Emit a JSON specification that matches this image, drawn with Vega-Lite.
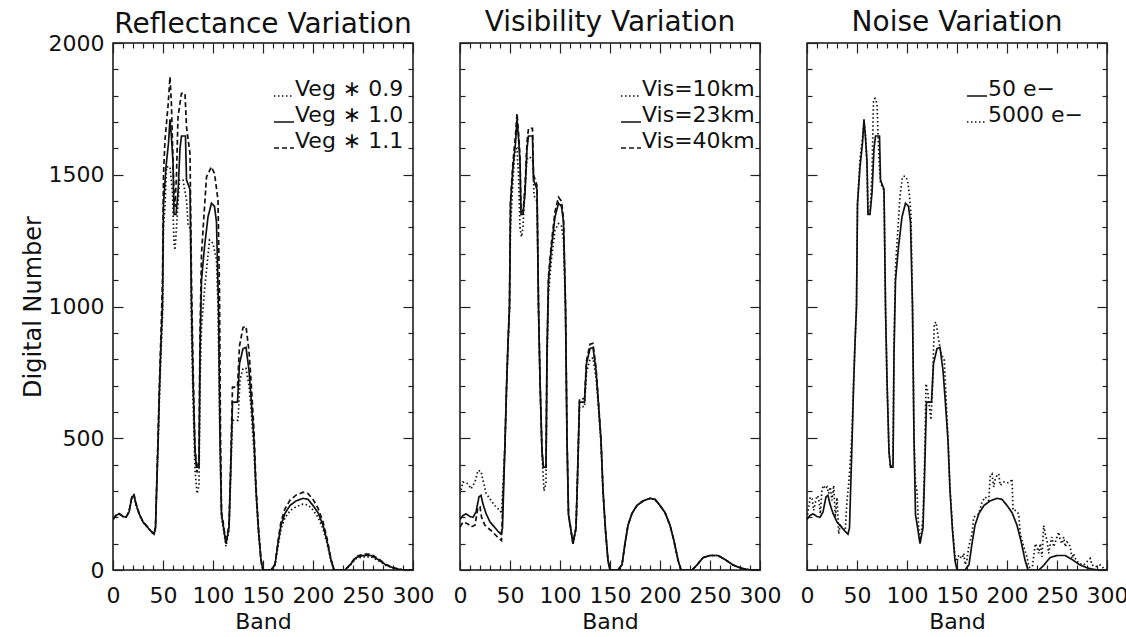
{
  "$schema": "https://vega.github.io/schema/vega-lite/v6.json",
  "background": "white",
  "padding": {"left": 20, "top": 8, "right": 5, "bottom": 0},
  "config": {
    "view": {"stroke": "#111", "strokeWidth": 1.5},
    "font": "DejaVu Sans",
    "axis": {"grid": false, "domain": false, "labelFont": "DejaVu Sans", "labelFontSize": 22, "labelColor": "#111", "titleFont": "DejaVu Sans", "titleFontSize": 22, "titleFontWeight": "normal", "titleColor": "#111", "tickColor": "#222", "tickWidth": 1.2, "labelFlush": false, "labelOverlap": false},
    "title": {"font": "DejaVu Sans", "fontSize": 28, "fontWeight": "normal", "color": "#111", "anchor": "middle", "frame": "group", "baseline": "bottom", "offset": 5},
    "legend": {"title": null, "symbolType": "stroke", "symbolSize": 400, "symbolStrokeColor": "#111", "symbolStrokeWidth": 1.7, "labelFont": "DejaVu Sans", "labelFontSize": 22, "labelColor": "#111", "labelOffset": 0, "labelBaseline": "alphabetic", "padding": 0, "rowPadding": 4, "labelLimit": 300}
  },
  "datasets": {
    "curves": [
      {"s":"base","b":0,"v":192},{"s":"base","b":3,"v":207},{"s":"base","b":6,"v":213},{"s":"base","b":10,"v":203},{"s":"base","b":13,"v":200},{"s":"base","b":16,"v":220},{"s":"base","b":19,"v":278},{"s":"base","b":21,"v":283},{"s":"base","b":23,"v":250},{"s":"base","b":26,"v":215},{"s":"base","b":30,"v":182},{"s":"base","b":34,"v":165},{"s":"base","b":38,"v":147},{"s":"base","b":41,"v":136},{"s":"base","b":42.5,"v":160},{"s":"base","b":43.5,"v":290},{"s":"base","b":45,"v":480},{"s":"base","b":46.5,"v":690},{"s":"base","b":48,"v":860},{"s":"base","b":49.5,"v":1000},{"s":"base","b":50.5,"v":1390},{"s":"base","b":53,"v":1530},{"s":"base","b":55.5,"v":1620},{"s":"base","b":57,"v":1710},{"s":"base","b":58.5,"v":1640},{"s":"base","b":60,"v":1550},{"s":"base","b":61,"v":1350},{"s":"base","b":63,"v":1350},{"s":"base","b":65,"v":1430},{"s":"base","b":67,"v":1600},{"s":"base","b":68.5,"v":1647},{"s":"base","b":72.5,"v":1647},{"s":"base","b":73.5,"v":1480},{"s":"base","b":77,"v":1445},{"s":"base","b":78.5,"v":1000},{"s":"base","b":80,"v":720},{"s":"base","b":82,"v":450},{"s":"base","b":83.5,"v":390},{"s":"base","b":86,"v":390},{"s":"base","b":87,"v":820},{"s":"base","b":88.5,"v":1100},{"s":"base","b":91.5,"v":1226},{"s":"base","b":95,"v":1340},{"s":"base","b":98.5,"v":1392},{"s":"base","b":101.5,"v":1380},{"s":"base","b":103.5,"v":1320},{"s":"base","b":105.5,"v":1000},{"s":"base","b":107,"v":500},{"s":"base","b":108.5,"v":210},{"s":"base","b":110,"v":175},{"s":"base","b":113,"v":100},{"s":"base","b":116,"v":160},{"s":"base","b":117.5,"v":350},{"s":"base","b":119.5,"v":637},{"s":"base","b":124.5,"v":637},{"s":"base","b":126.5,"v":783},{"s":"base","b":130,"v":840},{"s":"base","b":133,"v":845},{"s":"base","b":136,"v":758},{"s":"base","b":138,"v":656},{"s":"base","b":141,"v":492},{"s":"base","b":143,"v":302},{"s":"base","b":145.5,"v":150},{"s":"base","b":148,"v":36},{"s":"base","b":150,"v":0},{"s":"base","b":158,"v":0},{"s":"base","b":162,"v":20},{"s":"base","b":165,"v":100},{"s":"base","b":168,"v":170},{"s":"base","b":172,"v":215},{"s":"base","b":177,"v":245},{"s":"base","b":183,"v":262},{"s":"base","b":190,"v":272},{"s":"base","b":195,"v":268},{"s":"base","b":200,"v":245},{"s":"base","b":205,"v":218},{"s":"base","b":210,"v":170},{"s":"base","b":214,"v":110},{"s":"base","b":218,"v":38},{"s":"base","b":221,"v":0},{"s":"base","b":232,"v":0},{"s":"base","b":237,"v":19},{"s":"base","b":243,"v":47},{"s":"base","b":250,"v":55},{"s":"base","b":258,"v":55},{"s":"base","b":265,"v":40},{"s":"base","b":273,"v":19},{"s":"base","b":282,"v":6},{"s":"base","b":290,"v":0},{"s":"base","b":300,"v":0},

      {"s":"r09","b":0,"v":192},{"s":"r09","b":3,"v":207},{"s":"r09","b":6,"v":213},{"s":"r09","b":10,"v":203},{"s":"r09","b":13,"v":200},{"s":"r09","b":16,"v":220},{"s":"r09","b":19,"v":276},{"s":"r09","b":21,"v":280},{"s":"r09","b":23,"v":248},{"s":"r09","b":26,"v":214},{"s":"r09","b":30,"v":181},{"s":"r09","b":34,"v":164},{"s":"r09","b":38,"v":146},{"s":"r09","b":41,"v":135},{"s":"r09","b":42.5,"v":158},{"s":"r09","b":43.5,"v":280},{"s":"r09","b":45,"v":460},{"s":"r09","b":46.5,"v":660},{"s":"r09","b":48,"v":820},{"s":"r09","b":49.5,"v":960},{"s":"r09","b":50.5,"v":1300},{"s":"r09","b":52,"v":1380},{"s":"r09","b":53.5,"v":1530},{"s":"r09","b":57,"v":1530},{"s":"r09","b":59.5,"v":1430},{"s":"r09","b":61,"v":1240},{"s":"r09","b":62,"v":1214},{"s":"r09","b":63.5,"v":1300},{"s":"r09","b":66.5,"v":1480},{"s":"r09","b":70,"v":1480},{"s":"r09","b":73.5,"v":1404},{"s":"r09","b":75,"v":1315},{"s":"r09","b":77.5,"v":1290},{"s":"r09","b":78.5,"v":900},{"s":"r09","b":80,"v":650},{"s":"r09","b":82,"v":380},{"s":"r09","b":84,"v":290},{"s":"r09","b":86,"v":320},{"s":"r09","b":87,"v":700},{"s":"r09","b":88.5,"v":922},{"s":"r09","b":91.5,"v":1062},{"s":"r09","b":96.5,"v":1252},{"s":"r09","b":100,"v":1240},{"s":"r09","b":103.5,"v":1176},{"s":"r09","b":105,"v":1000},{"s":"r09","b":107,"v":480},{"s":"r09","b":108.5,"v":200},{"s":"r09","b":110,"v":165},{"s":"r09","b":113,"v":90},{"s":"r09","b":116,"v":150},{"s":"r09","b":117.5,"v":330},{"s":"r09","b":119.5,"v":568},{"s":"r09","b":125,"v":568},{"s":"r09","b":127,"v":720},{"s":"r09","b":130,"v":765},{"s":"r09","b":133,"v":765},{"s":"r09","b":136,"v":700},{"s":"r09","b":138,"v":615},{"s":"r09","b":141,"v":450},{"s":"r09","b":143,"v":290},{"s":"r09","b":145.5,"v":140},{"s":"r09","b":148,"v":32},{"s":"r09","b":150,"v":0},{"s":"r09","b":158,"v":0},{"s":"r09","b":162,"v":18},{"s":"r09","b":165,"v":90},{"s":"r09","b":168,"v":156},{"s":"r09","b":172,"v":198},{"s":"r09","b":177,"v":225},{"s":"r09","b":183,"v":240},{"s":"r09","b":190,"v":250},{"s":"r09","b":195,"v":247},{"s":"r09","b":200,"v":228},{"s":"r09","b":205,"v":200},{"s":"r09","b":210,"v":157},{"s":"r09","b":214,"v":100},{"s":"r09","b":218,"v":34},{"s":"r09","b":221,"v":0},{"s":"r09","b":232,"v":0},{"s":"r09","b":237,"v":17},{"s":"r09","b":243,"v":43},{"s":"r09","b":250,"v":50},{"s":"r09","b":258,"v":50},{"s":"r09","b":265,"v":36},{"s":"r09","b":273,"v":17},{"s":"r09","b":282,"v":5},{"s":"r09","b":290,"v":0},{"s":"r09","b":300,"v":0},

      {"s":"r11","b":0,"v":193},{"s":"r11","b":3,"v":208},{"s":"r11","b":6,"v":214},{"s":"r11","b":10,"v":204},{"s":"r11","b":13,"v":201},{"s":"r11","b":16,"v":222},{"s":"r11","b":19,"v":281},{"s":"r11","b":21,"v":286},{"s":"r11","b":23,"v":252},{"s":"r11","b":26,"v":216},{"s":"r11","b":30,"v":183},{"s":"r11","b":34,"v":166},{"s":"r11","b":38,"v":148},{"s":"r11","b":41,"v":137},{"s":"r11","b":42.5,"v":162},{"s":"r11","b":43.5,"v":300},{"s":"r11","b":45,"v":500},{"s":"r11","b":46.5,"v":720},{"s":"r11","b":48,"v":900},{"s":"r11","b":49.5,"v":1100},{"s":"r11","b":50.5,"v":1500},{"s":"r11","b":52,"v":1632},{"s":"r11","b":55,"v":1760},{"s":"r11","b":57,"v":1872},{"s":"r11","b":58.5,"v":1760},{"s":"r11","b":59.5,"v":1620},{"s":"r11","b":61,"v":1420},{"s":"r11","b":62,"v":1378},{"s":"r11","b":63.5,"v":1500},{"s":"r11","b":65,"v":1720},{"s":"r11","b":68.5,"v":1809},{"s":"r11","b":72,"v":1809},{"s":"r11","b":73.5,"v":1682},{"s":"r11","b":77,"v":1581},{"s":"r11","b":78.5,"v":1100},{"s":"r11","b":80,"v":780},{"s":"r11","b":82,"v":470},{"s":"r11","b":84,"v":370},{"s":"r11","b":86,"v":420},{"s":"r11","b":87,"v":900},{"s":"r11","b":88.5,"v":1201},{"s":"r11","b":93.5,"v":1492},{"s":"r11","b":98.5,"v":1530},{"s":"r11","b":101.5,"v":1505},{"s":"r11","b":105,"v":1404},{"s":"r11","b":106.5,"v":1050},{"s":"r11","b":107.5,"v":520},{"s":"r11","b":108.5,"v":220},{"s":"r11","b":110,"v":185},{"s":"r11","b":113,"v":105},{"s":"r11","b":116,"v":170},{"s":"r11","b":117.5,"v":380},{"s":"r11","b":119.5,"v":694},{"s":"r11","b":124.5,"v":694},{"s":"r11","b":126.5,"v":850},{"s":"r11","b":130,"v":920},{"s":"r11","b":133,"v":925},{"s":"r11","b":136,"v":830},{"s":"r11","b":138,"v":720},{"s":"r11","b":141,"v":530},{"s":"r11","b":143,"v":320},{"s":"r11","b":145.5,"v":160},{"s":"r11","b":148,"v":40},{"s":"r11","b":150,"v":0},{"s":"r11","b":158,"v":0},{"s":"r11","b":162,"v":22},{"s":"r11","b":165,"v":110},{"s":"r11","b":168,"v":184},{"s":"r11","b":172,"v":232},{"s":"r11","b":177,"v":265},{"s":"r11","b":183,"v":284},{"s":"r11","b":190,"v":295},{"s":"r11","b":195,"v":290},{"s":"r11","b":200,"v":268},{"s":"r11","b":205,"v":235},{"s":"r11","b":210,"v":183},{"s":"r11","b":214,"v":120},{"s":"r11","b":218,"v":42},{"s":"r11","b":221,"v":0},{"s":"r11","b":232,"v":0},{"s":"r11","b":237,"v":21},{"s":"r11","b":243,"v":51},{"s":"r11","b":250,"v":60},{"s":"r11","b":258,"v":60},{"s":"r11","b":265,"v":44},{"s":"r11","b":273,"v":21},{"s":"r11","b":282,"v":7},{"s":"r11","b":290,"v":0},{"s":"r11","b":300,"v":0},

      {"s":"v10","b":0,"v":289},{"s":"v10","b":3,"v":334},{"s":"v10","b":8,"v":327},{"s":"v10","b":11,"v":308},{"s":"v10","b":15,"v":334},{"s":"v10","b":18,"v":378},{"s":"v10","b":21,"v":375},{"s":"v10","b":23,"v":340},{"s":"v10","b":26,"v":292},{"s":"v10","b":31,"v":264},{"s":"v10","b":36,"v":239},{"s":"v10","b":40,"v":226},{"s":"v10","b":41.5,"v":214},{"s":"v10","b":43,"v":320},{"s":"v10","b":45,"v":480},{"s":"v10","b":46.5,"v":680},{"s":"v10","b":48,"v":850},{"s":"v10","b":49.5,"v":980},{"s":"v10","b":50.5,"v":1300},{"s":"v10","b":53,"v":1480},{"s":"v10","b":55,"v":1594},{"s":"v10","b":57,"v":1600},{"s":"v10","b":58.5,"v":1500},{"s":"v10","b":60,"v":1300},{"s":"v10","b":61.5,"v":1264},{"s":"v10","b":63,"v":1300},{"s":"v10","b":65,"v":1450},{"s":"v10","b":67,"v":1560},{"s":"v10","b":70,"v":1568},{"s":"v10","b":73,"v":1550},{"s":"v10","b":74,"v":1420},{"s":"v10","b":77,"v":1400},{"s":"v10","b":78.5,"v":980},{"s":"v10","b":80,"v":720},{"s":"v10","b":82,"v":440},{"s":"v10","b":84,"v":300},{"s":"v10","b":86,"v":330},{"s":"v10","b":87,"v":780},{"s":"v10","b":88.5,"v":1050},{"s":"v10","b":91.5,"v":1180},{"s":"v10","b":95,"v":1290},{"s":"v10","b":98.5,"v":1315},{"s":"v10","b":101.5,"v":1305},{"s":"v10","b":103.5,"v":1250},{"s":"v10","b":105.5,"v":980},{"s":"v10","b":107,"v":490},{"s":"v10","b":108.5,"v":205},{"s":"v10","b":110,"v":170},{"s":"v10","b":113,"v":98},{"s":"v10","b":116,"v":155},{"s":"v10","b":117.5,"v":340},{"s":"v10","b":119.5,"v":620},{"s":"v10","b":124.5,"v":620},{"s":"v10","b":126.5,"v":750},{"s":"v10","b":130,"v":800},{"s":"v10","b":133,"v":805},{"s":"v10","b":136,"v":730},{"s":"v10","b":138,"v":640},{"s":"v10","b":141,"v":480},{"s":"v10","b":143,"v":295},{"s":"v10","b":145.5,"v":148},{"s":"v10","b":148,"v":36},{"s":"v10","b":150,"v":0},{"s":"v10","b":158,"v":0},{"s":"v10","b":162,"v":20},{"s":"v10","b":165,"v":100},{"s":"v10","b":168,"v":170},{"s":"v10","b":172,"v":215},{"s":"v10","b":177,"v":245},{"s":"v10","b":183,"v":262},{"s":"v10","b":190,"v":272},{"s":"v10","b":195,"v":268},{"s":"v10","b":200,"v":245},{"s":"v10","b":205,"v":218},{"s":"v10","b":210,"v":170},{"s":"v10","b":214,"v":110},{"s":"v10","b":218,"v":38},{"s":"v10","b":221,"v":0},{"s":"v10","b":232,"v":0},{"s":"v10","b":237,"v":19},{"s":"v10","b":243,"v":47},{"s":"v10","b":250,"v":55},{"s":"v10","b":258,"v":55},{"s":"v10","b":265,"v":40},{"s":"v10","b":273,"v":19},{"s":"v10","b":282,"v":6},{"s":"v10","b":290,"v":0},{"s":"v10","b":300,"v":0},

      {"s":"v40","b":0,"v":163},{"s":"v40","b":3,"v":182},{"s":"v40","b":8,"v":175},{"s":"v40","b":11,"v":163},{"s":"v40","b":15,"v":170},{"s":"v40","b":18,"v":239},{"s":"v40","b":20,"v":240},{"s":"v40","b":21.5,"v":201},{"s":"v40","b":25,"v":169},{"s":"v40","b":31,"v":150},{"s":"v40","b":36,"v":131},{"s":"v40","b":39.5,"v":118},{"s":"v40","b":41.5,"v":112},{"s":"v40","b":43,"v":280},{"s":"v40","b":45,"v":480},{"s":"v40","b":46.5,"v":690},{"s":"v40","b":48,"v":865},{"s":"v40","b":49.5,"v":1005},{"s":"v40","b":50.5,"v":1400},{"s":"v40","b":53,"v":1550},{"s":"v40","b":55.5,"v":1650},{"s":"v40","b":57,"v":1733},{"s":"v40","b":58.5,"v":1660},{"s":"v40","b":60,"v":1570},{"s":"v40","b":61,"v":1360},{"s":"v40","b":63,"v":1360},{"s":"v40","b":65,"v":1450},{"s":"v40","b":67,"v":1625},{"s":"v40","b":68.5,"v":1676},{"s":"v40","b":72.5,"v":1676},{"s":"v40","b":73.5,"v":1500},{"s":"v40","b":77,"v":1460},{"s":"v40","b":78.5,"v":1010},{"s":"v40","b":80,"v":725},{"s":"v40","b":82,"v":450},{"s":"v40","b":83.5,"v":385},{"s":"v40","b":86,"v":390},{"s":"v40","b":87,"v":830},{"s":"v40","b":88.5,"v":1115},{"s":"v40","b":91.5,"v":1245},{"s":"v40","b":95,"v":1360},{"s":"v40","b":98.5,"v":1415},{"s":"v40","b":101.5,"v":1400},{"s":"v40","b":103.5,"v":1335},{"s":"v40","b":105.5,"v":1010},{"s":"v40","b":107,"v":505},{"s":"v40","b":108.5,"v":212},{"s":"v40","b":110,"v":176},{"s":"v40","b":113,"v":100},{"s":"v40","b":116,"v":162},{"s":"v40","b":117.5,"v":355},{"s":"v40","b":119.5,"v":650},{"s":"v40","b":124.5,"v":650},{"s":"v40","b":126.5,"v":795},{"s":"v40","b":130,"v":857},{"s":"v40","b":133,"v":860},{"s":"v40","b":136,"v":768},{"s":"v40","b":138,"v":662},{"s":"v40","b":141,"v":496},{"s":"v40","b":143,"v":304},{"s":"v40","b":145.5,"v":151},{"s":"v40","b":148,"v":36},{"s":"v40","b":150,"v":0},{"s":"v40","b":158,"v":0},{"s":"v40","b":162,"v":20},{"s":"v40","b":165,"v":100},{"s":"v40","b":168,"v":170},{"s":"v40","b":172,"v":215},{"s":"v40","b":177,"v":245},{"s":"v40","b":183,"v":262},{"s":"v40","b":190,"v":272},{"s":"v40","b":195,"v":268},{"s":"v40","b":200,"v":245},{"s":"v40","b":205,"v":218},{"s":"v40","b":210,"v":170},{"s":"v40","b":214,"v":110},{"s":"v40","b":218,"v":38},{"s":"v40","b":221,"v":0},{"s":"v40","b":232,"v":0},{"s":"v40","b":237,"v":19},{"s":"v40","b":243,"v":47},{"s":"v40","b":250,"v":55},{"s":"v40","b":258,"v":55},{"s":"v40","b":265,"v":40},{"s":"v40","b":273,"v":19},{"s":"v40","b":282,"v":6},{"s":"v40","b":290,"v":0},{"s":"v40","b":300,"v":0},

      {"s":"n5000","b":0,"v":195},{"s":"n5000","b":1.7,"v":239},{"s":"n5000","b":3.3,"v":277},{"s":"n5000","b":5,"v":270},{"s":"n5000","b":6.7,"v":226},{"s":"n5000","b":8.3,"v":255},{"s":"n5000","b":10,"v":282},{"s":"n5000","b":11.7,"v":275},{"s":"n5000","b":13.3,"v":213},{"s":"n5000","b":15,"v":308},{"s":"n5000","b":16.7,"v":321},{"s":"n5000","b":18.3,"v":308},{"s":"n5000","b":20,"v":315},{"s":"n5000","b":21.7,"v":290},{"s":"n5000","b":23.3,"v":315},{"s":"n5000","b":25,"v":264},{"s":"n5000","b":26.7,"v":321},{"s":"n5000","b":28.3,"v":200},{"s":"n5000","b":30,"v":275},{"s":"n5000","b":31.7,"v":137},{"s":"n5000","b":33.3,"v":175},{"s":"n5000","b":35,"v":160},{"s":"n5000","b":36.7,"v":155},{"s":"n5000","b":38.3,"v":150},{"s":"n5000","b":40,"v":264},{"s":"n5000","b":41.7,"v":327},{"s":"n5000","b":43.3,"v":410},{"s":"n5000","b":45,"v":520},{"s":"n5000","b":46.5,"v":700},{"s":"n5000","b":48,"v":860},{"s":"n5000","b":49.5,"v":1000},{"s":"n5000","b":50.5,"v":1390},{"s":"n5000","b":53,"v":1560},{"s":"n5000","b":55.5,"v":1640},{"s":"n5000","b":57,"v":1700},{"s":"n5000","b":58.5,"v":1650},{"s":"n5000","b":60,"v":1540},{"s":"n5000","b":61,"v":1350},{"s":"n5000","b":63,"v":1360},{"s":"n5000","b":65,"v":1500},{"s":"n5000","b":66.5,"v":1783},{"s":"n5000","b":68,"v":1790},{"s":"n5000","b":70,"v":1770},{"s":"n5000","b":72,"v":1556},{"s":"n5000","b":73.5,"v":1470},{"s":"n5000","b":77,"v":1440},{"s":"n5000","b":78.5,"v":1000},{"s":"n5000","b":80,"v":720},{"s":"n5000","b":82,"v":450},{"s":"n5000","b":83.5,"v":390},{"s":"n5000","b":86,"v":400},{"s":"n5000","b":87,"v":850},{"s":"n5000","b":88.5,"v":1150},{"s":"n5000","b":91,"v":1300},{"s":"n5000","b":93,"v":1420},{"s":"n5000","b":95.5,"v":1492},{"s":"n5000","b":98,"v":1495},{"s":"n5000","b":100.5,"v":1480},{"s":"n5000","b":102.5,"v":1420},{"s":"n5000","b":104,"v":1350},{"s":"n5000","b":105.5,"v":1000},{"s":"n5000","b":107,"v":500},{"s":"n5000","b":108.5,"v":330},{"s":"n5000","b":110,"v":300},{"s":"n5000","b":111.5,"v":170},{"s":"n5000","b":113,"v":100},{"s":"n5000","b":116,"v":200},{"s":"n5000","b":117.5,"v":400},{"s":"n5000","b":119,"v":707},{"s":"n5000","b":120.7,"v":680},{"s":"n5000","b":122.3,"v":620},{"s":"n5000","b":124,"v":570},{"s":"n5000","b":125.5,"v":700},{"s":"n5000","b":127.3,"v":935},{"s":"n5000","b":129,"v":941},{"s":"n5000","b":130.7,"v":897},{"s":"n5000","b":134,"v":821},{"s":"n5000","b":137.3,"v":796},{"s":"n5000","b":139,"v":660},{"s":"n5000","b":141,"v":500},{"s":"n5000","b":143,"v":310},{"s":"n5000","b":145.5,"v":160},{"s":"n5000","b":148,"v":50},{"s":"n5000","b":150,"v":32},{"s":"n5000","b":151.7,"v":57},{"s":"n5000","b":153.3,"v":50},{"s":"n5000","b":155,"v":44},{"s":"n5000","b":156.7,"v":63},{"s":"n5000","b":158.3,"v":20},{"s":"n5000","b":160,"v":40},{"s":"n5000","b":161.7,"v":88},{"s":"n5000","b":163.3,"v":112},{"s":"n5000","b":165,"v":137},{"s":"n5000","b":166.7,"v":200},{"s":"n5000","b":168.3,"v":205},{"s":"n5000","b":171.7,"v":213},{"s":"n5000","b":175,"v":258},{"s":"n5000","b":178.3,"v":277},{"s":"n5000","b":181.7,"v":264},{"s":"n5000","b":183.3,"v":359},{"s":"n5000","b":185,"v":365},{"s":"n5000","b":186.7,"v":315},{"s":"n5000","b":188.3,"v":346},{"s":"n5000","b":190,"v":359},{"s":"n5000","b":191.7,"v":365},{"s":"n5000","b":193.3,"v":321},{"s":"n5000","b":196.7,"v":334},{"s":"n5000","b":200,"v":330},{"s":"n5000","b":203.3,"v":334},{"s":"n5000","b":205,"v":346},{"s":"n5000","b":206,"v":226},{"s":"n5000","b":208.3,"v":226},{"s":"n5000","b":211.7,"v":213},{"s":"n5000","b":213.3,"v":137},{"s":"n5000","b":216.7,"v":88},{"s":"n5000","b":220,"v":50},{"s":"n5000","b":221.7,"v":13},{"s":"n5000","b":225,"v":0},{"s":"n5000","b":228.3,"v":100},{"s":"n5000","b":230,"v":88},{"s":"n5000","b":231.7,"v":63},{"s":"n5000","b":233.3,"v":100},{"s":"n5000","b":235,"v":50},{"s":"n5000","b":236.7,"v":169},{"s":"n5000","b":238.3,"v":137},{"s":"n5000","b":240,"v":112},{"s":"n5000","b":241.7,"v":63},{"s":"n5000","b":243.3,"v":100},{"s":"n5000","b":245,"v":125},{"s":"n5000","b":246.7,"v":88},{"s":"n5000","b":250,"v":125},{"s":"n5000","b":251.7,"v":144},{"s":"n5000","b":253.3,"v":112},{"s":"n5000","b":255,"v":100},{"s":"n5000","b":256.7,"v":125},{"s":"n5000","b":258.3,"v":88},{"s":"n5000","b":260,"v":106},{"s":"n5000","b":261.7,"v":100},{"s":"n5000","b":263.3,"v":88},{"s":"n5000","b":265,"v":44},{"s":"n5000","b":266.7,"v":63},{"s":"n5000","b":268.3,"v":44},{"s":"n5000","b":271.7,"v":25},{"s":"n5000","b":276.7,"v":19},{"s":"n5000","b":283.3,"v":44},{"s":"n5000","b":285,"v":19},{"s":"n5000","b":288.3,"v":12},{"s":"n5000","b":293.3,"v":19},{"s":"n5000","b":296.7,"v":6},{"s":"n5000","b":300,"v":0}
    ]
  },
  "bounds": "flush",
  "spacing": 47,
  "resolve": {"scale": {"strokeDash": "independent"}, "legend": {"strokeDash": "independent"}},
  "hconcat": [
    {
      "width": 300, "height": 527,
      "title": {"text": "Reflectance Variation", "offset": -7},
      "data": {"name": "curves"},
      "transform": [{"filter": {"field": "s", "oneOf": ["r09", "base", "r11"]}}],
      "layer": [
        {
          "mark": {"type": "line", "color": "#111", "strokeWidth": 1.7, "clip": true},
          "encoding": {
            "x": {"field": "b", "type": "quantitative", "scale": {"domain": [0, 300], "nice": false, "zero": false},
              "axis": {"orient": "bottom", "values": [0,10,20,30,40,50,60,70,80,90,100,110,120,130,140,150,160,170,180,190,200,210,220,230,240,250,260,270,280,290,300], "labelExpr": "datum.value % 50 === 0 ? datum.label : ''", "tickSize": {"condition": {"test": "datum.value % 50 === 0", "value": -10}, "value": -5}, "labelPadding": 25, "title": "Band", "titlePadding": 0}},
            "y": {"field": "v", "type": "quantitative", "scale": {"domain": [0, 2000], "nice": false},
              "axis": {"orient": "left", "values": [0,100,200,300,400,500,600,700,800,900,1000,1100,1200,1300,1400,1500,1600,1700,1800,1900,2000], "labelExpr": "datum.value % 500 === 0 ? datum.label : ''", "format": "d", "tickSize": {"condition": {"test": "datum.value % 500 === 0", "value": -10}, "value": -5}, "labelPadding": 19, "title": "Digital Number", "titleFontSize": 24, "titlePadding": 3}},
            "strokeDash": {"field": "s", "type": "nominal", "scale": {"domain": ["r09", "base", "r11"], "range": [[1.5, 2.5], [1, 0], [5, 3]]},
              "legend": {"orient": "none", "legendX": 160, "legendY": 42, "labelExpr": "datum.value === 'r09' ? 'Veg ∗ 0.9' : datum.value === 'base' ? 'Veg ∗ 1.0' : 'Veg ∗ 1.1'"}}
          }
        },
        {
          "mark": {"type": "point", "opacity": 0},
          "encoding": {
            "x": {"field": "b", "type": "quantitative", "axis": {"orient": "top", "values": [0,10,20,30,40,50,60,70,80,90,100,110,120,130,140,150,160,170,180,190,200,210,220,230,240,250,260,270,280,290,300], "labels": false, "title": null, "tickSize": {"condition": {"test": "datum.value % 50 === 0", "value": -10}, "value": -5}}},
            "y": {"field": "v", "type": "quantitative", "axis": {"orient": "right", "values": [0,100,200,300,400,500,600,700,800,900,1000,1100,1200,1300,1400,1500,1600,1700,1800,1900,2000], "labels": false, "title": null, "tickSize": {"condition": {"test": "datum.value % 500 === 0", "value": -10}, "value": -5}}}
          }
        }
      ]
    },
    {
      "width": 300, "height": 527,
      "title": "Visibility Variation",
      "data": {"name": "curves"},
      "transform": [{"filter": {"field": "s", "oneOf": ["v10", "base", "v40"]}}],
      "layer": [
        {
          "mark": {"type": "line", "color": "#111", "strokeWidth": 1.7, "clip": true},
          "encoding": {
            "x": {"field": "b", "type": "quantitative", "scale": {"domain": [0, 300], "nice": false, "zero": false},
              "axis": {"orient": "bottom", "values": [0,10,20,30,40,50,60,70,80,90,100,110,120,130,140,150,160,170,180,190,200,210,220,230,240,250,260,270,280,290,300], "labelExpr": "datum.value % 50 === 0 ? datum.label : ''", "tickSize": {"condition": {"test": "datum.value % 50 === 0", "value": -10}, "value": -5}, "labelPadding": 25, "title": "Band", "titlePadding": 0}},
            "y": {"field": "v", "type": "quantitative", "scale": {"domain": [0, 2000], "nice": false},
              "axis": {"orient": "left", "values": [0,100,200,300,400,500,600,700,800,900,1000,1100,1200,1300,1400,1500,1600,1700,1800,1900,2000], "labels": false, "title": null, "tickSize": {"condition": {"test": "datum.value % 500 === 0", "value": -10}, "value": -5}}},
            "strokeDash": {"field": "s", "type": "nominal", "scale": {"domain": ["v10", "base", "v40"], "range": [[1.5, 2.5], [1, 0], [5, 3]]},
              "legend": {"orient": "none", "legendX": 160, "legendY": 42, "labelExpr": "datum.value === 'v10' ? 'Vis=10km' : datum.value === 'base' ? 'Vis=23km' : 'Vis=40km'"}}
          }
        },
        {
          "mark": {"type": "point", "opacity": 0},
          "encoding": {
            "x": {"field": "b", "type": "quantitative", "axis": {"orient": "top", "values": [0,10,20,30,40,50,60,70,80,90,100,110,120,130,140,150,160,170,180,190,200,210,220,230,240,250,260,270,280,290,300], "labels": false, "title": null, "tickSize": {"condition": {"test": "datum.value % 50 === 0", "value": -10}, "value": -5}}},
            "y": {"field": "v", "type": "quantitative", "axis": {"orient": "right", "values": [0,100,200,300,400,500,600,700,800,900,1000,1100,1200,1300,1400,1500,1600,1700,1800,1900,2000], "labels": false, "title": null, "tickSize": {"condition": {"test": "datum.value % 500 === 0", "value": -10}, "value": -5}}}
          }
        }
      ]
    },
    {
      "width": 300, "height": 527,
      "title": "Noise Variation",
      "data": {"name": "curves"},
      "transform": [{"filter": {"field": "s", "oneOf": ["base", "n5000"]}}],
      "layer": [
        {
          "mark": {"type": "line", "color": "#111", "strokeWidth": 1.7, "clip": true},
          "encoding": {
            "x": {"field": "b", "type": "quantitative", "scale": {"domain": [0, 300], "nice": false, "zero": false},
              "axis": {"orient": "bottom", "values": [0,10,20,30,40,50,60,70,80,90,100,110,120,130,140,150,160,170,180,190,200,210,220,230,240,250,260,270,280,290,300], "labelExpr": "datum.value % 50 === 0 ? datum.label : ''", "tickSize": {"condition": {"test": "datum.value % 50 === 0", "value": -10}, "value": -5}, "labelPadding": 25, "title": "Band", "titlePadding": 0}},
            "y": {"field": "v", "type": "quantitative", "scale": {"domain": [0, 2000], "nice": false},
              "axis": {"orient": "left", "values": [0,100,200,300,400,500,600,700,800,900,1000,1100,1200,1300,1400,1500,1600,1700,1800,1900,2000], "labels": false, "title": null, "tickSize": {"condition": {"test": "datum.value % 500 === 0", "value": -10}, "value": -5}}},
            "strokeDash": {"field": "s", "type": "nominal", "scale": {"domain": ["base", "n5000"], "range": [[1, 0], [1.5, 2.5]]},
              "legend": {"orient": "none", "legendX": 159, "legendY": 42, "labelExpr": "datum.value === 'base' ? '50 e−' : '5000 e−'"}}
          }
        },
        {
          "mark": {"type": "point", "opacity": 0},
          "encoding": {
            "x": {"field": "b", "type": "quantitative", "axis": {"orient": "top", "values": [0,10,20,30,40,50,60,70,80,90,100,110,120,130,140,150,160,170,180,190,200,210,220,230,240,250,260,270,280,290,300], "labels": false, "title": null, "tickSize": {"condition": {"test": "datum.value % 50 === 0", "value": -10}, "value": -5}}},
            "y": {"field": "v", "type": "quantitative", "axis": {"orient": "right", "values": [0,100,200,300,400,500,600,700,800,900,1000,1100,1200,1300,1400,1500,1600,1700,1800,1900,2000], "labels": false, "title": null, "tickSize": {"condition": {"test": "datum.value % 500 === 0", "value": -10}, "value": -5}}}
          }
        }
      ]
    }
  ]
}
